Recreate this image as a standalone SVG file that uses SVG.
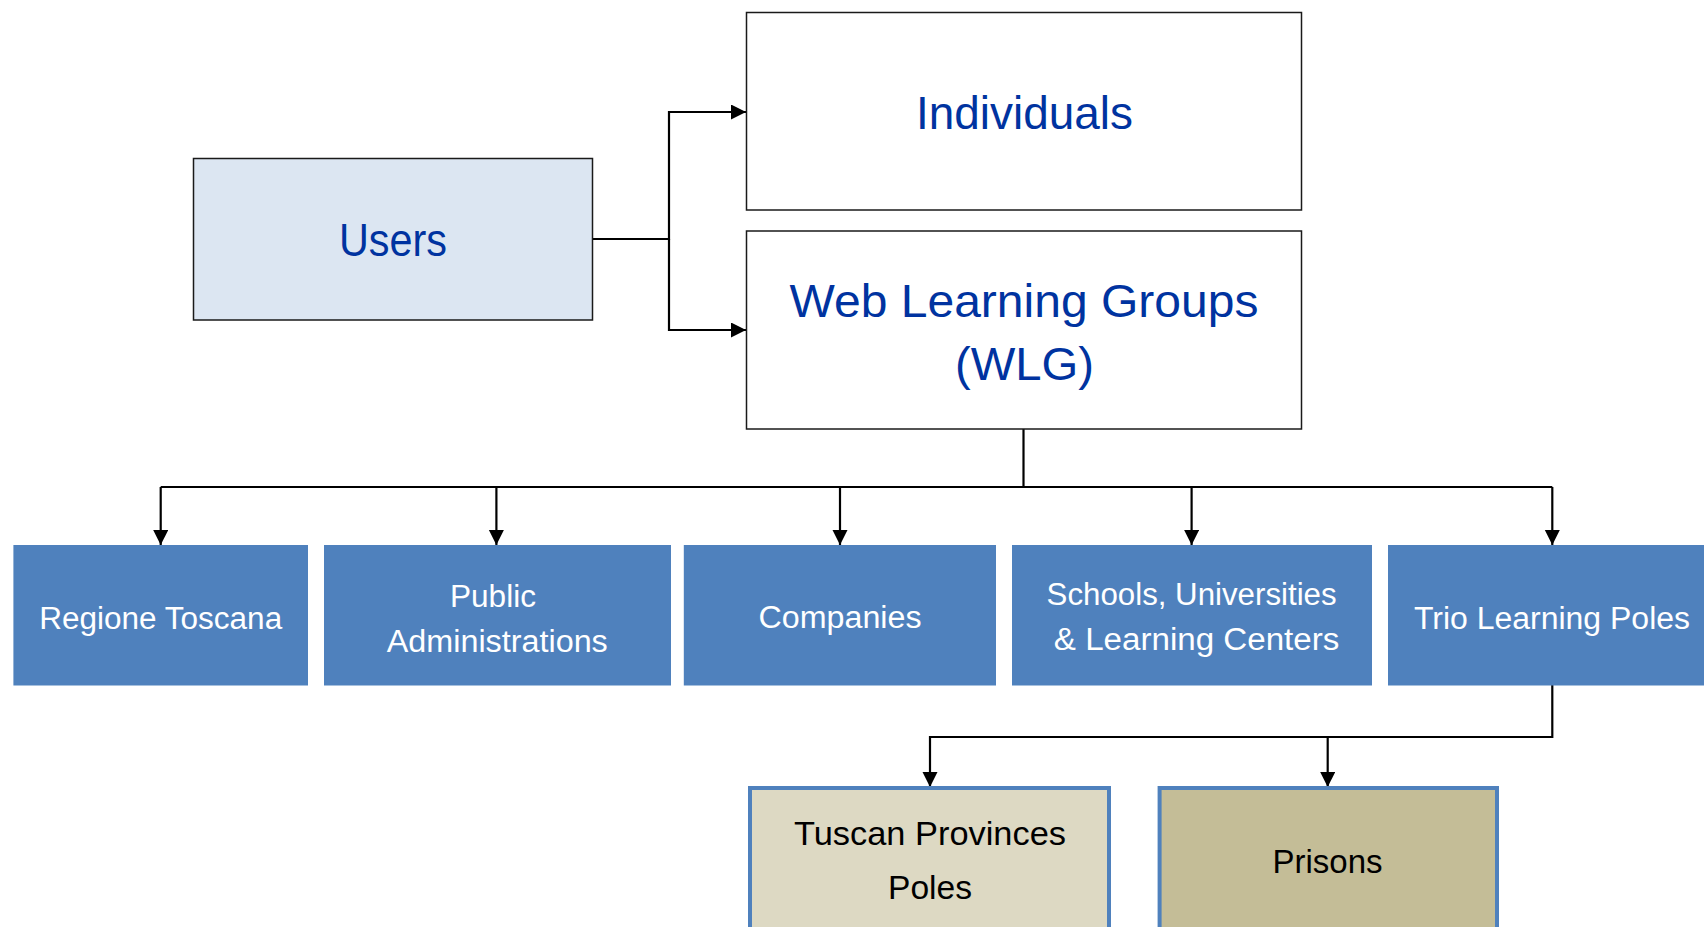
<svg xmlns="http://www.w3.org/2000/svg" width="1704" height="927" viewBox="0 0 1704 927">
<style>
.top{stroke:#1a1a1a;stroke-width:1.5}
.t{font-family:"Liberation Sans",Arial,sans-serif;text-anchor:middle}
.bt{fill:#0033A0;font-size:46px}
.wt{fill:#ffffff;font-size:31px}
.kt{fill:#000000;font-size:33px}
.blue{fill:#4F81BD}
.low{stroke:#4F81BD;stroke-width:4}
.c{fill:none;stroke:#000;stroke-width:2.2}
</style>
<defs>
<marker id="ah" markerUnits="userSpaceOnUse" markerWidth="16" markerHeight="16" refX="15" refY="7.5" orient="auto">
<path d="M0,0 L15,7.5 L0,15 z" fill="#000"/>
</marker>
</defs>
<rect width="1704" height="927" fill="#ffffff"/>
<g id="connectors">
<path class="c" d="M593,239 H669 V112 H746" marker-end="url(#ah)"/>
<path class="c" d="M669,239 V330 H746" marker-end="url(#ah)"/>
<path class="c" d="M1023.5,429 V487"/>
<path class="c" d="M160.7,487 H1552.3"/>
<path class="c" d="M160.7,487 V545" marker-end="url(#ah)"/>
<path class="c" d="M496.4,487 V545" marker-end="url(#ah)"/>
<path class="c" d="M840,487 V545" marker-end="url(#ah)"/>
<path class="c" d="M1191.6,487 V545" marker-end="url(#ah)"/>
<path class="c" d="M1552.3,487 V545" marker-end="url(#ah)"/>
<path class="c" d="M1552.3,685 V737 H930 V787" marker-end="url(#ah)"/>
<path class="c" d="M1327.7,737 V787" marker-end="url(#ah)"/>
</g>
<g id="users">
<rect class="top" x="193.5" y="158.5" width="399" height="161.5" fill="#DCE6F2"/>
<text class="t bt" x="393" y="256" textLength="108" lengthAdjust="spacingAndGlyphs">Users</text>
</g>
<g id="individuals">
<rect class="top" x="746.5" y="12.5" width="555" height="197.5" fill="#ffffff"/>
<text class="t bt" x="1024.5" y="129" textLength="217" lengthAdjust="spacingAndGlyphs">Individuals</text>
</g>
<g id="wlg">
<rect class="top" x="746.5" y="231" width="555" height="198" fill="#ffffff"/>
<text class="t bt" x="1024" y="316.5" textLength="469" lengthAdjust="spacingAndGlyphs">Web Learning Groups</text>
<text class="t bt" x="1024.5" y="380" textLength="139" lengthAdjust="spacingAndGlyphs">(WLG)</text>
</g>
<g id="regione">
<rect class="blue" x="13.4" y="545" width="294.6" height="140.5"/>
<text class="t wt" x="160.7" y="629" textLength="243" lengthAdjust="spacingAndGlyphs">Regione Toscana</text>
</g>
<g id="public">
<rect class="blue" x="324" y="545" width="347" height="140.5"/>
<text class="t wt" x="493" y="606.5" textLength="86" lengthAdjust="spacingAndGlyphs">Public</text>
<text class="t wt" x="497.3" y="651.5" textLength="221" lengthAdjust="spacingAndGlyphs">Administrations</text>
</g>
<g id="companies">
<rect class="blue" x="683.8" y="545" width="312.2" height="140.5"/>
<text class="t wt" x="840" y="627.5" textLength="163" lengthAdjust="spacingAndGlyphs">Companies</text>
</g>
<g id="schools">
<rect class="blue" x="1012" y="545" width="360" height="140.5"/>
<text class="t wt" x="1191.6" y="605" textLength="290" lengthAdjust="spacingAndGlyphs">Schools, Universities</text>
<text class="t wt" x="1196.6" y="650" textLength="285.5" lengthAdjust="spacingAndGlyphs">&amp; Learning Centers</text>
</g>
<g id="trio">
<rect class="blue" x="1388" y="545" width="320" height="140.5"/>
<text class="t wt" x="1552" y="628.5" textLength="276" lengthAdjust="spacingAndGlyphs">Trio Learning Poles</text>
</g>
<g id="tuscan">
<rect class="low" x="750" y="788" width="359" height="160" fill="#DDD9C3"/>
<text class="t kt" x="930" y="845" textLength="272" lengthAdjust="spacingAndGlyphs">Tuscan Provinces</text>
<text class="t kt" x="930" y="898.5" textLength="84" lengthAdjust="spacingAndGlyphs">Poles</text>
</g>
<g id="prisons">
<rect class="low" x="1159.6" y="788" width="337.4" height="160" fill="#C4BD97"/>
<text class="t kt" x="1327.5" y="872.5" textLength="110" lengthAdjust="spacingAndGlyphs">Prisons</text>
</g>
</svg>
